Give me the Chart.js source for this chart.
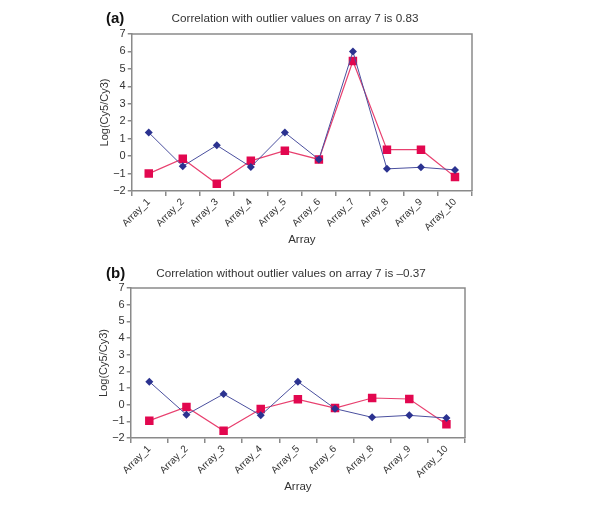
<!DOCTYPE html>
<html>
<head>
<meta charset="utf-8">
<script src="https://cdn.jsdelivr.net/npm/chart.js@4/dist/chart.umd.min.js"></script>
<style>
  body { margin: 0; background: #fff; font-family: "Liberation Sans", Arial, sans-serif; }
  .panel { position: absolute; left: 0; width: 600px; }
  .panel canvas { position: absolute; left: 0; top: 0; }
  .tag { position: absolute; font-weight: bold; font-size: 15px; color: #111; }
  .title { position: absolute; left: 0; text-align: center; font-size: 11.7px; line-height: 14px; color: #333; white-space: nowrap; }
</style>
</head>
<body>
<div class="panel" id="panelA" style="top:0;height:250px">
  <canvas id="chartA" width="600" height="250"></canvas>
  <div class="tag" style="left:106px;top:9px">(a)</div>
  <div class="title" id="titleA" style="top:11px;width:590px"></div>
</div>
<div class="panel" id="panelB" style="top:250px;height:258px">
  <canvas id="chartB" width="600" height="258"></canvas>
  <div class="tag" style="left:106px;top:14px">(b)</div>
  <div class="title" id="titleB" style="top:16px;width:582px"></div>
</div>
<script>
const arraysA = ['Array_1','Array_2','Array_3','Array_4','Array_5','Array_6','Array_7','Array_8','Array_9','Array_10']
const blueA = [1.35, -0.58, 0.62, -0.62, 1.35, -0.19, 6.0, -0.73, -0.64, -0.79]
const redA = [-1.0, -0.15, -1.58, -0.27, 0.31, -0.19, 5.45, 0.37, 0.37, -1.19]

const arraysB = ['Array_1','Array_2','Array_3','Array_4','Array_5','Array_6','Array_8','Array_9','Array_10']
const blueB = [1.38, -0.6, 0.64, -0.64, 1.38, -0.24, -0.76, -0.64, -0.8]
const redB = [-0.96, -0.14, -1.56, -0.26, 0.32, -0.2, 0.4, 0.34, -1.18]

const yTicks = [-2, -1, 0, 1, 2, 3, 4, 5, 6, 7]

const titleA = 'Correlation with outlier values on array 7 is 0.83'
const titleB = 'Correlation without outlier values on array 7 is \u20130.37'

document.getElementById('titleA').textContent = titleA
document.getElementById('titleB').textContent = titleB

const BLUE = '#2b3290'
const RED = '#e2074f'
const AXIS = '#8a8a8a'
const TEXT = '#333'

// grey frame on top and right of the plot
const frame = {
  id: 'frame',
  afterDraw(chart) {
    const {ctx, chartArea: a} = chart
    ctx.save()
    ctx.strokeStyle = AXIS
    ctx.lineWidth = 1.5
    ctx.beginPath()
    ctx.moveTo(a.left, a.top)
    ctx.lineTo(a.right, a.top)
    ctx.lineTo(a.right, a.bottom)
    ctx.stroke()
    ctx.restore()
  }
}

const makeConfig = (labels, blue, red, pad) => ({
  type: 'line',
  data: {
    labels: labels,
    datasets: [{
      data: blue,
      borderColor: '#4a4f9e',
      borderWidth: 1,
      backgroundColor: BLUE,
      pointStyle: 'rectRot',
      pointRadius: 4,
      pointBorderWidth: 0,
      tension: 0
    }, {
      data: red,
      borderColor: '#e8406f',
      borderWidth: 1.2,
      backgroundColor: RED,
      pointStyle: 'rect',
      pointRadius: 6,
      pointBorderWidth: 0,
      tension: 0
    }]
  },
  options: {
    responsive: false,
    animation: false,
    layout: { padding: pad },
    plugins: {
      legend: { display: false },
      tooltip: { enabled: false },
      title: { display: false }
    },
    scales: {
      x: {
        offset: true,
        grid: { offset: true, drawOnChartArea: false, drawTicks: true, tickLength: 5, color: AXIS, lineWidth: 1.5 },
        border: { color: AXIS, width: 1.5 },
        ticks: { color: TEXT, font: { family: 'Liberation Sans', size: 10 }, minRotation: 45, maxRotation: 45, padding: 0 },
        title: { display: true, text: 'Array', color: TEXT, font: { family: 'Liberation Sans', size: 11.5 }, padding: { top: 0, bottom: 0 } }
      },
      y: {
        min: -2,
        max: 7,
        afterBuildTicks: axis => { axis.ticks = yTicks.map(v => ({ value: v })) },
        grid: { drawOnChartArea: false, drawTicks: true, tickLength: 4, color: AXIS, lineWidth: 1.5 },
        border: { color: AXIS, width: 1.5 },
        ticks: { color: TEXT, font: { family: 'Liberation Sans', size: 11 }, padding: 2,
          callback: v => String(v).replace('-', '\u2212') },
        title: { display: true, text: 'Log(Cy5/Cy3)', color: TEXT, font: { family: 'Liberation Sans', size: 11 }, padding: { top: 0, bottom: 0 } }
      }
    }
  },
  plugins: [frame]
})

new Chart(document.getElementById('chartA'), makeConfig(arraysA, blueA, redA, { left: 98, right: 128, top: 34, bottom: 3 }))
new Chart(document.getElementById('chartB'), makeConfig(arraysB, blueB, redB, { left: 97, right: 135, top: 38, bottom: 14 }))
</script>
</body>
</html>
